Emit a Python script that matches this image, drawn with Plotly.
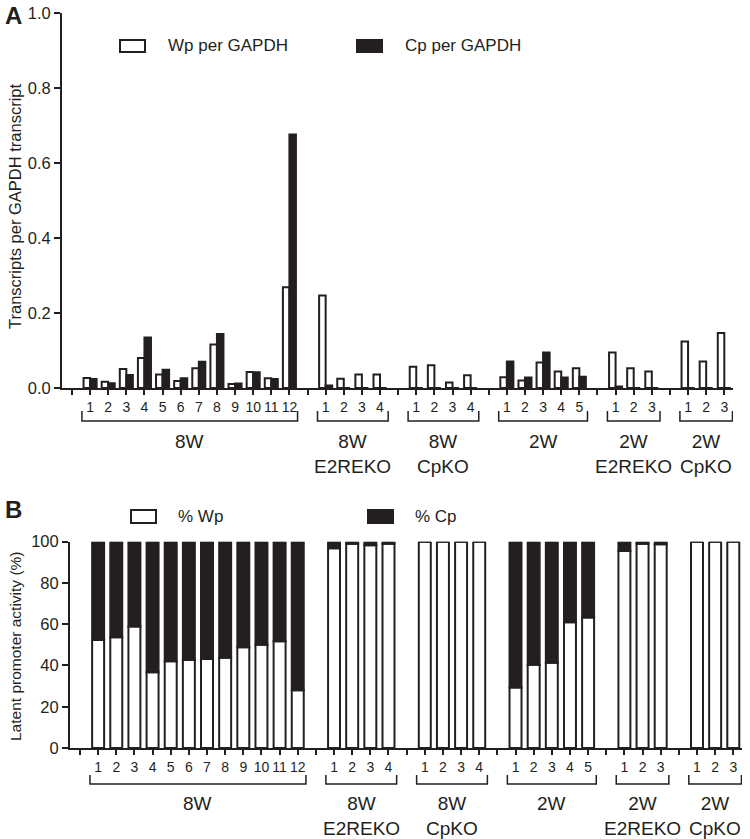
import plotly.graph_objects as go

# ---------------- data ----------------
group_names = ["8W", "8W<br>E2REKO", "8W<br>CpKO", "2W", "2W<br>E2REKO", "2W<br>CpKO"]
group_sizes = [12, 4, 4, 5, 3, 3]

# Panel A: transcripts per GAPDH transcript
wp_per_gapdh = [
    0.027, 0.017, 0.051, 0.080, 0.036, 0.019, 0.053, 0.116, 0.011, 0.043, 0.026, 0.269,  # 8W
    0.247, 0.025, 0.036, 0.036,                                                          # 8W E2REKO
    0.057, 0.061, 0.015, 0.034,                                                          # 8W CpKO
    0.029, 0.020, 0.068, 0.044, 0.053,                                                   # 2W
    0.095, 0.053, 0.044,                                                                 # 2W E2REKO
    0.124, 0.071, 0.147,                                                                 # 2W CpKO
]
cp_per_gapdh = [
    0.024, 0.013, 0.035, 0.135, 0.049, 0.026, 0.070, 0.144, 0.012, 0.042, 0.024, 0.676,
    0.007, 0.0, 0.0, 0.0,
    0.0, 0.0, 0.0, 0.0,
    0.071, 0.028, 0.095, 0.028, 0.030,
    0.004, 0.0, 0.0,
    0.0, 0.0, 0.0,
]

# Panel B: latent promoter activity (%)
pct_wp = [
    52.4, 53.7, 58.9, 36.7, 42.0, 42.6, 43.1, 43.7, 48.8, 50.1, 51.7, 28.0,
    96.8, 99.0, 98.3, 99.0,
    100, 100, 100, 100,
    29.3, 40.3, 41.3, 61.0, 63.3,
    95.5, 99.0, 98.8,
    100, 100, 100,
]
pct_cp = [
    47.6, 46.3, 41.1, 63.3, 58.0, 57.4, 56.9, 56.3, 51.2, 49.9, 48.3, 72.0,
    3.2, 1.0, 1.7, 1.0,
    0, 0, 0, 0,
    70.7, 59.7, 58.7, 39.0, 36.7,
    4.5, 1.0, 1.2,
    0, 0, 0,
]

# ---------------- slot positions (gap slot before each group) ----------------
xpos, tickvals, ticktext, group_spans = [], [], [], []
slot = 0
for name, n in zip(group_names, group_sizes):
    tickvals.append(slot); ticktext.append("")
    slot += 1
    first = slot
    for i in range(n):
        xpos.append(slot)
        tickvals.append(slot); ticktext.append(str(i + 1))
        slot += 1
    group_spans.append((name, first, slot - 1))

W, H = 750, 839
FONT = "Liberation Sans, Arial, Helvetica, sans-serif"
BLACK = "#231f20"

def py(y):
    return 1 - y / H

def px(x):
    return x / W

fig = go.Figure()
line = dict(color=BLACK, width=2)
fig.add_trace(go.Bar(x=xpos, y=wp_per_gapdh, name="Wp per GAPDH",
                     marker=dict(color="white", line=line), xaxis="x", yaxis="y"))
fig.add_trace(go.Bar(x=xpos, y=cp_per_gapdh, name="Cp per GAPDH",
                     marker=dict(color=BLACK, line=line), xaxis="x", yaxis="y"))
fig.add_trace(go.Bar(x=xpos, y=pct_wp, name="% Wp", offsetgroup="b",
                     marker=dict(color="white", line=line), xaxis="x2", yaxis="y2",
                     width=0.66))
fig.add_trace(go.Bar(x=xpos, y=pct_cp, name="% Cp", base=pct_wp, offsetgroup="b",
                     marker=dict(color=BLACK, line=line), xaxis="x2", yaxis="y2",
                     width=0.66))

xr = [-0.55, 36.48]
common_x = dict(range=xr, tickmode="array", tickvals=tickvals, ticktext=ticktext,
                ticks="outside", ticklen=5, tickwidth=2, tickcolor=BLACK,
                showline=True, linewidth=2, linecolor=BLACK, showgrid=False,
                zeroline=False, automargin=False,
                tickfont=dict(size=14, color=BLACK, family=FONT))
common_y = dict(ticks="outside", ticklen=6, tickwidth=2, tickcolor=BLACK,
                showline=True, linewidth=2, linecolor=BLACK, showgrid=False,
                zeroline=False, automargin=False,
                tickfont=dict(size=16.5, color=BLACK, family=FONT))

fig.update_layout(
    width=W, height=H, margin=dict(l=0, r=0, t=0, b=0, autoexpand=False),
    paper_bgcolor="white", plot_bgcolor="white", showlegend=False,
    barmode="group", bargap=0.28, bargroupgap=0,
    font=dict(family=FONT, color=BLACK),
    xaxis=dict(domain=[px(62), px(733)], anchor="y", **common_x),
    yaxis=dict(domain=[py(388), py(13)], anchor="x", range=[0, 1], dtick=0.2,
               tickformat=".1f", **common_y),
    xaxis2=dict(domain=[px(70), px(742)], anchor="y2", **common_x),
    yaxis2=dict(domain=[py(748), py(541.7)], anchor="x2", range=[0, 100], dtick=20,
                **common_y),
)

shapes, annotations = [], []

def brackets(xref, y_top, y_bot, y_lab):
    for name, a, b in group_spans:
        x0, x1 = a - 0.45, b + 0.45
        shapes.append(dict(type="path", xref=xref, yref="paper",
                           path=f"M {x0},{py(y_top)} L {x0},{py(y_bot)} L {x1},{py(y_bot)} L {x1},{py(y_top)}",
                           line=dict(color=BLACK, width=1.5)))
        annotations.append(dict(x=(a + b) / 2, y=py(y_lab), xref=xref, yref="paper",
                                text=name, showarrow=False, yanchor="top", xanchor="center",
                                font=dict(size=19, color=BLACK, family=FONT)))

brackets("x", 411, 421, 429)
brackets("x2", 775, 784, 791)

def legend_item(x0, x1, y0, y1, fill, label, tx):
    shapes.append(dict(type="rect", xref="paper", yref="paper",
                       x0=px(x0), x1=px(x1), y0=py(y1), y1=py(y0),
                       fillcolor=fill, line=dict(color=BLACK, width=2)))
    annotations.append(dict(x=px(tx), y=py((y0 + y1) / 2), xref="paper", yref="paper",
                            text=label, showarrow=False, xanchor="left", yanchor="middle",
                            font=dict(size=17, color=BLACK, family=FONT)))

legend_item(120, 145, 40, 52, "white", "Wp per GAPDH", 166)
legend_item(357, 382, 40, 52, BLACK, "Cp per GAPDH", 403)
legend_item(131, 156, 510, 523, "white", "% Wp", 176)
legend_item(368, 393, 510, 523, BLACK, "% Cp", 413)

# panel letters
annotations.append(dict(x=px(3), y=py(16), xref="paper", yref="paper", text="<b>A</b>",
                        showarrow=False, xanchor="left", yanchor="middle",
                        font=dict(size=24, color=BLACK, family=FONT)))
annotations.append(dict(x=px(3), y=py(509), xref="paper", yref="paper", text="<b>B</b>",
                        showarrow=False, xanchor="left", yanchor="middle",
                        font=dict(size=24, color=BLACK, family=FONT)))
# axis titles
annotations.append(dict(x=px(15), y=py(206), xref="paper", yref="paper",
                        text="Transcripts per GAPDH transcript", textangle=-90, showarrow=False,
                        xanchor="center", yanchor="middle",
                        font=dict(size=16.5, color=BLACK, family=FONT)))
annotations.append(dict(x=px(15), y=py(646), xref="paper", yref="paper",
                        text="Latent promoter activity (%)", textangle=-90, showarrow=False,
                        xanchor="center", yanchor="middle",
                        font=dict(size=15.5, color=BLACK, family=FONT)))

fig.update_layout(shapes=shapes, annotations=annotations)
fig.write_html("out.html", config={"displayModeBar": False},
               post_script="document.body.style.margin='0px';document.body.style.overflow='hidden';")
